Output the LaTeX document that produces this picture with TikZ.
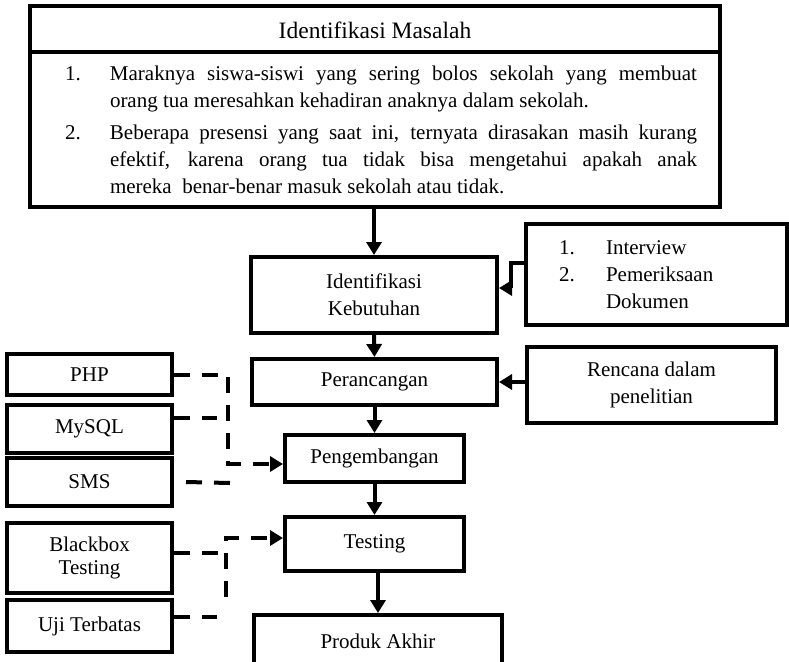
\documentclass[tikz,border=0pt]{standalone}
\usepackage{fontspec}
\setmainfont{Liberation Serif}
\usetikzlibrary{arrows.meta}

\newcommand{\butir}[2]{\hangindent=45pt\hangafter=0\noindent\llap{\makebox[45pt][l]{#1}}#2\par}

\begin{document}
\begin{tikzpicture}[
    x=1pt, y=-1pt,
    line width=4pt,
    font=\fontsize{21}{27}\selectfont,
    box/.style={draw,align=center,inner sep=0pt},
    dashline/.style={dash pattern=on 16pt off 12pt},
    >={Triangle[length=13pt,width=15pt]}
]
    \useasboundingbox (0,0) rectangle (789,661);

    % Identifikasi Masalah
    \node[box,minimum width=690pt,minimum height=201pt] (masalah) at (375,106.5) {};
    \node[font=\fontsize{23.5}{28}\selectfont] (judul) at (375,30) {Identifikasi Masalah};
    \coordinate (garis) at (0,52);
    \draw (masalah.west |- garis) -- (masalah.east |- garis);
    \node[anchor=north west,inner sep=0pt,text width=632pt,align=justify] (daftar) at (63,63.5) {%
        \butir{1.}{Maraknya siswa-siswi yang sering bolos sekolah yang membuat\linebreak
            orang tua meresahkan kehadiran anaknya dalam sekolah.}
        \vspace{5pt}
        \butir{2.}{Beberapa presensi yang saat ini, ternyata dirasakan masih kurang\linebreak
            efektif, karena orang tua tidak bisa mengetahui apakah anak\linebreak
            mereka~ benar-benar masuk sekolah atau tidak.}};

    % Alur utama
    \node[box,minimum width=246pt,minimum height=76pt] (kebutuhan) at (374,295) {Identifikasi\\Kebutuhan};
    \node[box,minimum width=245pt,minimum height=46pt] (perancangan) at (374.5,382) {Perancangan};
    \node[box,minimum width=179pt,minimum height=47pt] (pengembangan) at (374.5,458.5) {Pengembangan};
    \node[box,minimum width=179pt,minimum height=54pt] (testing) at (374.5,544) {Testing};
    \node[box,minimum width=248pt,minimum height=53pt] (produk) at (378,641.5) {Produk Akhir};

    % Masukan kanan
    \node[box,minimum height=101pt,inner xsep=33pt,text width=195pt,align=left] (interview) at (656.5,274.5)
        {\makebox[47pt][l]{1.}Interview\\\makebox[47pt][l]{2.}Pemeriksaan\\\hspace*{47pt}Dokumen};
    \node[box,minimum width=249pt,minimum height=76pt] (rencana) at (651.5,385) {Rencana dalam\\penelitian};

    % Masukan kiri
    \node[box,minimum width=165pt,minimum height=41pt] (php) at (89.5,374.5) {PHP};
    \node[box,minimum width=165pt,minimum height=48pt] (mysql) at (89.5,429) {MySQL};
    \node[box,minimum width=165pt,minimum height=48pt] (sms) at (89.5,482) {SMS};
    \node[box,minimum width=165pt,minimum height=70pt,font=\fontsize{21}{23}\selectfont] (blackbox) at (89.5,558) {Blackbox\\Testing};
    \node[box,minimum width=165pt,minimum height=52pt] (uji) at (89.5,626) {Uji Terbatas};

    % Panah utama
    \draw[->] (kebutuhan.north |- masalah.south) -- (kebutuhan.north);
    \draw[->] (kebutuhan.south) -- (perancangan.north);
    \draw[->] (perancangan.south) -- (pengembangan.north);
    \draw[->] (pengembangan.south) -- (testing.north);
    \draw[->] (testing.south -| produk) -- (produk.north);

    % Panah kanan
    \coordinate (sikua) at (511,263);
    \coordinate (sikub) at (511,288);
    \draw[->] (interview.west |- sikua) -- (sikua) -- (sikub) -- (sikub -| kebutuhan.east);
    \draw[->] (rencana.west |- perancangan) -- (perancangan.east);

    % Garis putus kiri
    \coordinate (busa) at (228,464);
    \coordinate (mysqlend) at (217,418);
    \coordinate (smsend) at (230,483);
    \draw[dashline,->] (php.east) -| (busa) -- (busa -| pengembangan.west);
    \draw[dashline] ([yshift=11pt]mysql.east) -- (mysqlend);
    \draw[dashline] ([xshift=12pt]sms.east) -- (smsend);

    \coordinate (busb) at (226,597);
    \coordinate (busbtop) at (226,538);
    \coordinate (bbend) at (220,553);
    \coordinate (ujiend) at (217,617);
    \draw[dashline,->] (busb) -- (busbtop) -- (busbtop -| testing.west);
    \draw[dashline] ([yshift=5pt]blackbox.east) -- (bbend);
    \draw[dashline] ([yshift=9pt]uji.east) -- (ujiend);
\end{tikzpicture}
\end{document}
